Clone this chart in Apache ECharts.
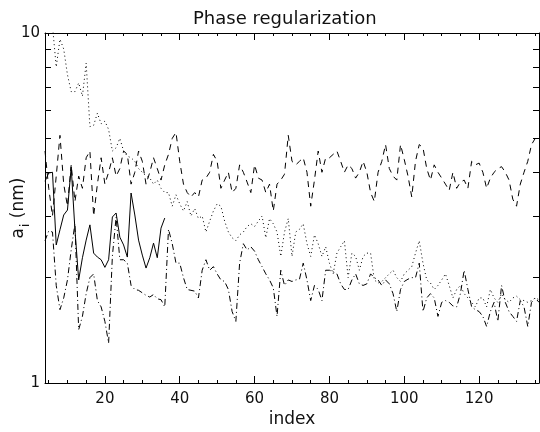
<!DOCTYPE html>
<html style="height: 100%">
<head>
    <meta charset="utf-8">
    <title>Phase regularization</title>
</head>
<body style="height: 100%; margin: 0; background: #fff">
<div id="container" style="width: 540px; height: 432px"></div>
<script src="https://cdn.jsdelivr.net/npm/echarts@6/dist/echarts.min.js"></script>
<script type="text/javascript">
    // first index of every series
    var firstIndex = 4;

    // solid line, index 4..36
    var solidVals = [3.77, 3.98, 4.0, 2.48, 2.74, 3.02, 3.12, 4.14, 2.74, 1.97,
        2.28, 2.56, 2.83, 2.35, 2.29, 2.25, 2.14, 2.25, 2.98, 3.06,
        2.61, 2.48, 2.29, 3.49, 3.02, 2.56, 2.32, 2.13, 2.28, 2.51,
        2.28, 2.77, 2.96];

    // dotted line, index 4..136
    var dottedVals = [13, 11.5, 10.5, 8.0, 9.6, 9.0, 7.6, 6.8, 6.8, 7.2,
        6.6, 8.2, 5.4, 5.45, 5.9, 5.5, 5.6, 5.3, 4.6, 4.7,
        5.0, 4.6, 4.45, 4.4, 4.3, 4.1, 4.0, 3.9, 3.85, 3.7,
        3.8, 3.6, 3.5, 3.5, 3.2, 3.45, 3.25, 3.1, 3.3, 3.0,
        3.15, 2.95, 3.0, 2.7, 2.9, 3.1, 3.25, 3.2, 2.9, 2.7,
        2.6, 2.55, 2.65, 2.7, 2.8, 2.85, 2.8, 2.9, 3.0, 2.6,
        2.95, 2.85, 2.7, 2.3, 2.7, 2.95, 2.3, 2.7, 2.75, 2.85,
        2.5, 2.3, 2.65, 2.5, 2.3, 2.45, 2.2, 2.05, 2.35, 2.45,
        2.55, 2.0, 2.35, 2.3, 2.1, 2.3, 2.35, 2.35, 1.97, 1.93,
        1.95, 2.0, 2.05, 2.1, 2.0, 1.95, 2.05, 2.1, 2.15, 2.35,
        2.55, 2.2, 1.97, 1.93, 1.85, 1.9, 1.97, 2.05, 1.9, 1.75,
        1.85, 1.9, 1.8, 1.75, 1.7, 1.65, 1.75, 1.75, 1.65, 1.85,
        1.75, 1.7, 1.8, 1.73, 1.7, 1.75, 1.77, 1.73, 1.72, 1.7,
        1.72, 1.75, 1.73];

    // dashed line, index 4..136
    var dashedVals = [4.6, 3.6, 3.0, 3.9, 5.1, 3.7, 3.2, 4.2, 3.3, 3.9,
        3.6, 4.4, 4.6, 3.0, 3.7, 4.4, 3.7, 4.0, 4.4, 3.9,
        4.1, 4.6, 4.5, 3.7, 4.0, 4.6, 4.3, 3.7, 4.0, 4.4,
        4.1, 3.8, 4.2, 4.5, 5.0, 5.2, 4.3, 3.7, 3.5, 3.4,
        3.5, 3.4, 3.8, 3.85, 4.0, 4.5, 4.3, 3.6, 3.8, 4.0,
        3.5, 3.6, 4.2, 4.0, 3.75, 3.5, 4.2, 3.85, 3.8, 3.5,
        3.7, 3.1, 3.7, 3.8, 3.95, 5.1, 4.3, 4.2, 4.3, 4.4,
        4.0, 3.2, 3.8, 4.6, 4.0, 4.4, 4.4, 4.5, 4.6, 4.3,
        4.0, 4.2, 4.1, 3.85, 4.0, 4.3, 4.0, 3.5, 3.3, 4.0,
        4.3, 4.8, 4.1, 3.9, 3.8, 4.8, 4.35, 3.9, 3.4, 4.3,
        4.8, 4.7, 4.1, 3.8, 4.2, 4.0, 3.85, 3.7, 3.55, 4.0,
        3.6, 3.75, 3.8, 3.6, 4.3, 4.2, 4.25, 4.0, 3.6, 3.85,
        4.0, 4.1, 4.15, 4.0, 3.8, 3.35, 3.2, 3.7, 4.0, 4.3,
        4.8, 5.0, 4.9];

    // dash-dot line, index 4..136
    var dashDotVals = [2.55, 2.72, 2.7, 1.9, 1.62, 1.75, 1.97, 2.4, 2.85, 1.42,
        1.55, 1.8, 2.0, 2.05, 1.72, 1.65, 1.5, 1.30, 2.3, 2.98,
        2.25, 2.25, 2.2, 1.9, 1.85, 1.84, 1.81, 1.78, 1.76, 1.79,
        1.74, 1.73, 1.65, 2.75, 2.5, 2.2, 2.2, 2.0, 1.85, 1.84,
        1.83, 1.75, 2.1, 2.25, 2.1, 2.15, 2.05, 1.97, 1.95, 1.85,
        1.6, 1.5, 2.2, 2.5, 2.4, 2.45, 2.38, 2.25, 2.15, 2.05,
        1.97, 1.87, 1.55, 2.1, 1.9, 1.97, 1.95, 1.97, 1.98, 2.2,
        1.97, 1.72, 1.9, 1.85, 1.72, 2.1, 2.1, 2.08, 2.05, 1.92,
        1.85, 1.85, 1.97, 2.05, 1.92, 1.9, 1.92, 2.05, 2.0, 1.97,
        1.9, 1.97, 1.92, 1.8, 1.6, 1.85, 1.95, 1.98, 2.0, 2.0,
        2.2, 1.6, 1.75, 1.8, 1.75, 1.55, 1.7, 1.72, 1.7, 1.66,
        1.65, 1.8, 2.1, 1.85, 1.65, 1.62, 1.6, 1.55, 1.45, 1.6,
        1.7, 1.5, 1.9, 1.7, 1.6, 1.55, 1.5, 1.72, 1.65, 1.45,
        1.7, 1.75, 1.7];

    // axis ticks
    var xMajor = [20, 40, 60, 80, 100, 120];
    var xMinor = [5, 10, 15, 25, 30, 35, 45, 50, 55, 65, 70, 75, 85, 90, 95,
        105, 110, 115, 125, 130, 135];
    var yTicks = [1, 2, 3, 4, 5, 6, 7, 8, 9, 10];

    function toPairs(vals) {
        var out = [];
        for (var i = 0; i < vals.length; i++) {
            out.push([firstIndex + i, vals[i]]);
        }
        return out;
    }

    var font = 'DejaVu Sans';
    var ink = '#000';

    function xAxis(pos, ticks, len, labels, showLine) {
        return {
            type: 'value', min: 4, max: 136, position: pos,
            axisLine: {show: showLine, onZero: false, lineStyle: {color: ink, width: 1}},
            axisTick: {show: true, inside: true, length: len, customValues: ticks,
                lineStyle: {color: ink, width: 1}},
            axisLabel: labels ? {customValues: xMajor, color: '#111', fontFamily: font,
                fontSize: 15, margin: 9} : {show: false},
            splitLine: {show: false}
        };
    }

    function yAxis(pos, labels) {
        return {
            type: 'log', logBase: 10, min: 1, max: 10, position: pos,
            axisLine: {show: true, onZero: false, lineStyle: {color: ink, width: 1}},
            axisTick: {show: true, inside: true, length: 6, customValues: yTicks,
                lineStyle: {color: ink, width: 1}},
            axisLabel: labels ? {color: '#111', fontFamily: font, fontSize: 15, margin: 5} : {show: false},
            splitLine: {show: false}
        };
    }

    var myChart = echarts.init(document.getElementById('container'));

    var xs = [
        xAxis('bottom', xMajor, 7, true, true),
        xAxis('bottom', xMinor, 3, false, false),
        xAxis('top', xMajor, 7, false, true),
        xAxis('top', xMinor, 3, false, false)
    ];
    xs[0].name = 'index';
    xs[0].nameLocation = 'middle';
    xs[0].nameGap = 28;
    xs[0].nameMoveOverlap = false;
    xs[0].nameTextStyle = {color: '#111', fontFamily: font, fontSize: 17};

    var ys = [yAxis('left', true), yAxis('right', false)];
    ys[0].name = '{a|a}{s|i}{a| (nm)}';
    ys[0].nameLocation = 'middle';
    ys[0].nameGap = 15;
    ys[0].nameMoveOverlap = false;
    ys[0].nameTextStyle = {
        color: '#111', fontFamily: font,
        rich: {
            a: {fontSize: 17, fontFamily: font, color: '#111', verticalAlign: 'top', lineHeight: 20},
            s: {fontSize: 12, fontFamily: font, color: '#111', verticalAlign: 'top', lineHeight: 13,
                padding: [10, 0, 0, 1]}
        }
    };

    function line(vals, type) {
        return {
            type: 'line', data: toPairs(vals), xAxisIndex: 0, yAxisIndex: 0,
            symbol: 'none', clip: true,
            lineStyle: {color: ink, width: 1, type: type}
        };
    }

    myChart.setOption({
        animation: false,
        backgroundColor: '#fff',
        title: {
            text: 'Phase regularization', left: 188, top: 5,
            textStyle: {color: '#111', fontFamily: font, fontSize: 18, fontWeight: 'normal'}
        },
        // keep the plot box fixed, labels may sit in the margins
        grid: {left: 45, right: 1, top: 33, bottom: 49, containLabel: false, outerBoundsMode: 'none'},
        xAxis: xs,
        yAxis: ys,
        series: [
            line(solidVals, 'solid'),
            line(dottedVals, [1, 3]),
            line(dashedVals, [6, 5]),
            line(dashDotVals, [6, 3, 1, 3])
        ]
    });
</script>
</body>
</html>
